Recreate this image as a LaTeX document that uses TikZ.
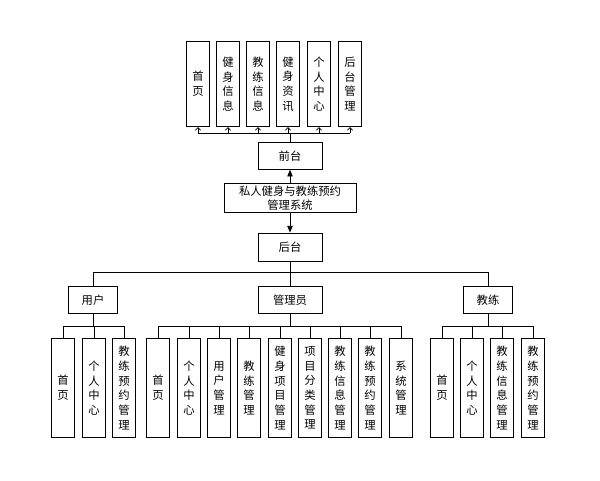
\documentclass[tikz,border=0pt]{standalone}
\usepackage{fontspec}
\newfontfamily\cjk{Noto Sans CJK SC}
\usetikzlibrary{arrows.meta}
\begin{document}
\begin{tikzpicture}[x=0.75pt,y=-0.75pt,
  every node/.style={font=\cjk\fontsize{8.5}{11}\selectfont},
  box/.style={draw,line width=0.6pt,inner sep=0pt,align=center},
  tall/.style={box,minimum width=17pt,minimum height=64pt},
  low/.style={box,minimum width=17pt,minimum height=74pt},
  ln/.style={line width=0.6pt}]
\useasboundingbox (0,0) rectangle (600,480);
\fill[white] (0,0) rectangle (600,480);
% top modules
\foreach \n/\x/\t in {a/198/首\\页,b/228/健\\身\\信\\息,c/258/教\\练\\信\\息,d/288/健\\身\\资\\讯,e/319/个\\人\\中\\心,f/350/后\\台\\管\\理}
  \node[tall] (\n) at (\x,84) {\t};
\node[box,minimum width=48pt,minimum height=20pt] (qt) at (290,156) {前台};
\node[box,minimum width=99pt,minimum height=22pt] (sys) at (290,198) {私人健身与教练预约\\管理系统};
\node[box,minimum width=48pt,minimum height=21pt] (ht) at (290,247) {后台};
\coordinate (bus) at (290,133);
\draw[ln] (qt.north) -- (bus);
\draw[ln] (a.south|-bus) -- (f.south|-bus);
\foreach \n in {a,b,c,d,e,f}
  \draw[ln,-{Straight Barb[length=2pt,width=4pt]}] (\n.south|-bus) -- (\n.south);
\draw[ln,-{Triangle[length=5pt,width=4pt]}] (sys.north-|qt) -- (qt.south);
\draw[ln,-{Triangle[length=5pt,width=4pt]}] (sys.south-|ht) -- (ht.north);
% roles
\node[box,minimum width=37pt,minimum height=20pt] (u) at (93,300) {用户};
\node[box,minimum width=48pt,minimum height=20pt] (m) at (290,300) {管理员};
\node[box,minimum width=37pt,minimum height=20pt] (c) at (488,300) {教练};
\coordinate (rb) at (290,272);
\draw[ln] (ht.south) -- (rb);
\draw[ln] (u.north|-rb) -- (c.north|-rb);
\foreach \n in {u,m,c} \draw[ln] (\n.north|-rb) -- (\n.north);
% leaves
\foreach \n/\x/\t in {u1/63/首\\页,u2/94/个\\人\\中\\心,u3/124/教\\练\\预\\约\\管\\理,
  m1/158/首\\页,m2/189/个\\人\\中\\心,m3/219/用\\户\\管\\理,m4/249/教\\练\\管\\理,m5/280/健\\身\\项\\目\\管\\理,m6/310/项\\目\\分\\类\\管\\理,m7/340/教\\练\\信\\息\\管\\理,m8/370/教\\练\\预\\约\\管\\理,m9/401/系\\统\\管\\理,
  c1/442/首\\页,c2/472/个\\人\\中\\心,c3/502/教\\练\\信\\息\\管\\理,c4/533/教\\练\\预\\约\\管\\理}
  \node[low] (\n) at (\x,388) {\t};
\coordinate (ub) at (93,326);
\draw[ln] (u.south) -- (ub);
\draw[ln] (u1.north|-ub) -- (u3.north|-ub);
\foreach \n in {u1,u2,u3} \draw[ln] (\n.north|-ub) -- (\n.north);
\coordinate (mb) at (290,326);
\draw[ln] (m.south) -- (mb);
\draw[ln] (m1.north|-mb) -- (m9.north|-mb);
\foreach \n in {m1,m2,m3,m4,m5,m6,m7,m8,m9} \draw[ln] (\n.north|-mb) -- (\n.north);
\coordinate (cb) at (488,326);
\draw[ln] (c.south) -- (cb);
\draw[ln] (c1.north|-cb) -- (c4.north|-cb);
\foreach \n in {c1,c2,c3,c4} \draw[ln] (\n.north|-cb) -- (\n.north);
\end{tikzpicture}
\end{document}
